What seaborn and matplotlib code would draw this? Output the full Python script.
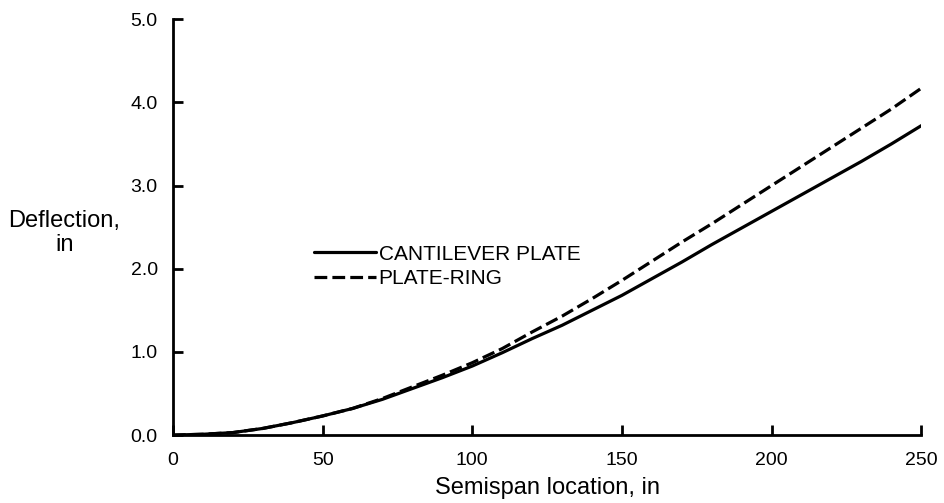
import matplotlib
matplotlib.use("Agg")
import matplotlib.pyplot as plt
import seaborn as sns
import pandas as pd

semispan = [0, 10, 20, 30, 40, 50, 60, 70, 80, 90, 100, 110, 120, 130, 140,
            150, 160, 170, 180, 190, 200, 210, 220, 230, 240, 250]
cantilever = [0.0, 0.01, 0.03, 0.08, 0.15, 0.23, 0.32, 0.43, 0.56, 0.69, 0.83,
              0.99, 1.16, 1.32, 1.50, 1.68, 1.88, 2.08, 2.29, 2.49, 2.69, 2.89,
              3.09, 3.29, 3.50, 3.72]
plate_ring = [0.0, 0.01, 0.03, 0.08, 0.15, 0.23, 0.32, 0.44, 0.58, 0.72, 0.87,
              1.04, 1.24, 1.43, 1.64, 1.86, 2.09, 2.32, 2.54, 2.77, 3.00, 3.23,
              3.46, 3.69, 3.92, 4.17]
series_names = ["CANTILEVER PLATE", "PLATE-RING"]
x_ticks = [0, 50, 100, 150, 200, 250]
y_ticks = [0.0, 1.0, 2.0, 3.0, 4.0, 5.0]

df = pd.DataFrame({
    "x": semispan * 2,
    "y": cantilever + plate_ring,
    "series": [series_names[0]] * len(semispan) + [series_names[1]] * len(semispan),
})

sns.set_style("ticks")
plt.rcParams["font.family"] = ["Liberation Sans", "DejaVu Sans"]
plt.rcParams["text.color"] = "black"
plt.rcParams["axes.labelcolor"] = "black"
plt.rcParams["xtick.color"] = "black"
plt.rcParams["ytick.color"] = "black"

fig = plt.figure(figsize=(9.45, 5.03), dpi=100)
ax = fig.add_axes([0.183, 0.135, 0.792, 0.827])

sns.lineplot(data=df, x="x", y="y", style="series", hue="series",
             palette=["black", "black"],
             dashes={series_names[0]: "", series_names[1]: (4.0, 1.6)},
             linewidth=2.3, ax=ax, legend=True)

ax.set_xlim(0, 250)
ax.set_ylim(0, 5.0)
ax.set_xticks(x_ticks)
ax.set_xticklabels([str(t) for t in x_ticks], fontsize=14)
ax.set_yticks(y_ticks)
ax.set_yticklabels([f"{t:.1f}" for t in y_ticks], fontsize=14)
ax.tick_params(axis="x", direction="in", length=7, width=2, color="black", pad=12)
ax.tick_params(axis="y", direction="in", length=7, width=2, color="black", pad=11)
for s in ["left", "bottom"]:
    ax.spines[s].set_linewidth(2)
    ax.spines[s].set_color("black")
sns.despine(ax=ax)

ax.set_xlabel("Semispan location, in", fontsize=17, labelpad=6)
ax.set_ylabel("Deflection,\nin", fontsize=17, rotation=0, ha="center", va="center",
              linespacing=1.15)
ax.yaxis.set_label_coords(-0.145, 0.486)

leg = ax.legend(loc="center left", bbox_to_anchor=(0.163, 0.406), frameon=False,
                fontsize=15, handlelength=3.0, handletextpad=0.12, labelspacing=0.25)
for line in leg.get_lines():
    line.set_linewidth(2.3)

fig.savefig("out.png", dpi=100, facecolor="white")
